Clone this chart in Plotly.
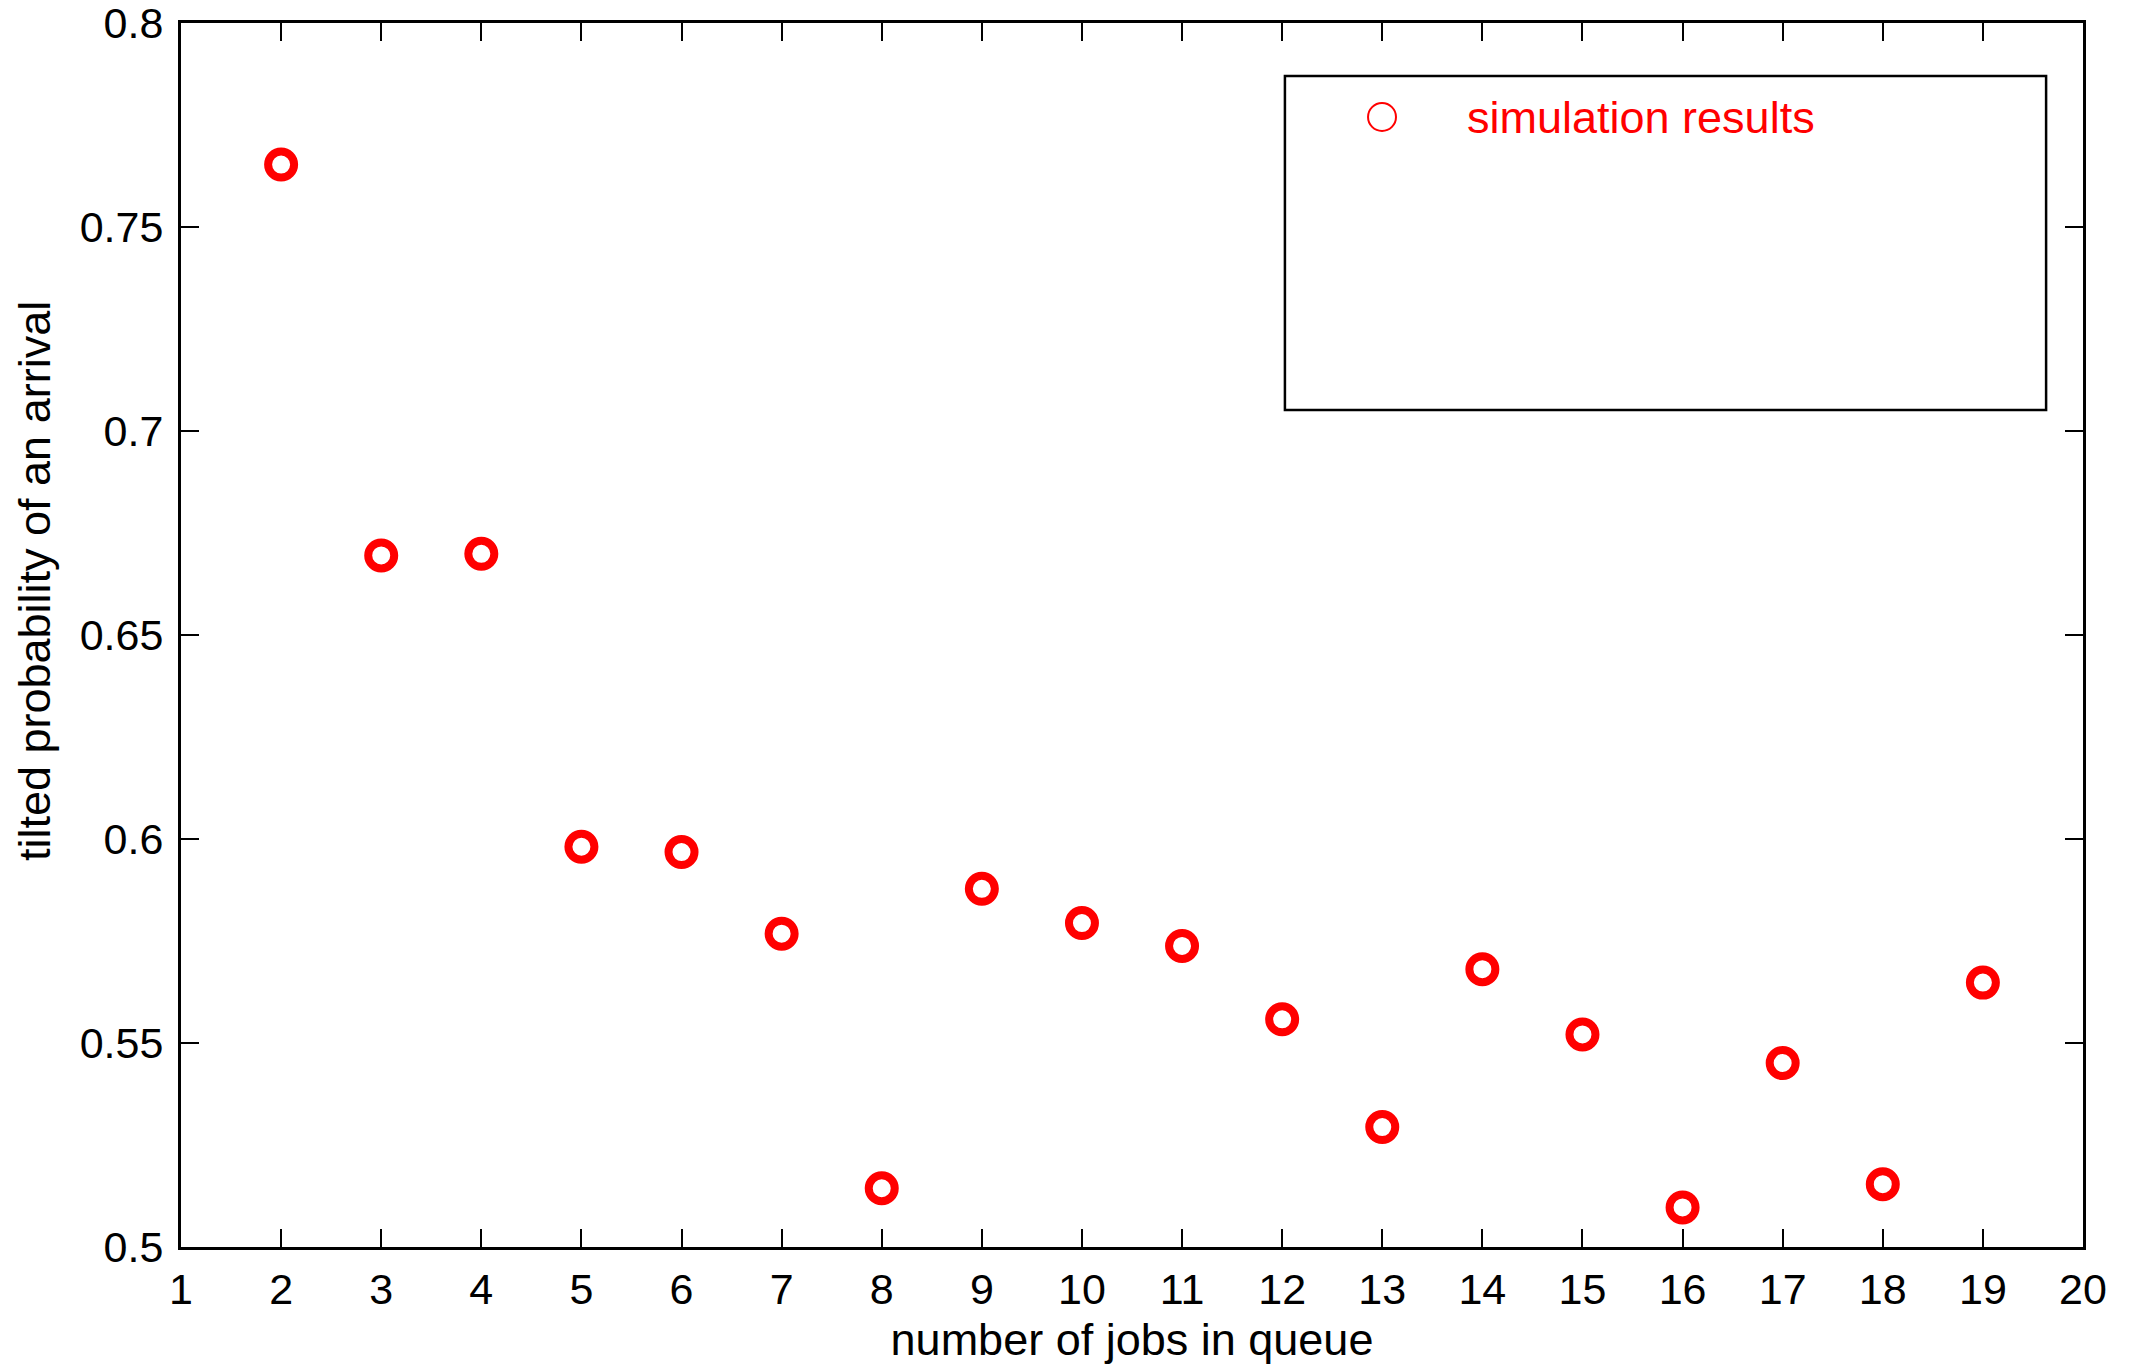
import plotly.graph_objects as go

jobs = [2, 3, 4, 5, 6, 7, 8, 9, 10, 11, 12, 13, 14, 15, 16, 17, 18, 19]
tilted_prob = [0.7653, 0.6695, 0.6699, 0.5981, 0.5968, 0.5768, 0.5144, 0.5878,
               0.5794, 0.5738, 0.5558, 0.5294, 0.5681, 0.5521, 0.5097, 0.5451,
               0.5154, 0.5648]
x_ticks = list(range(1, 21))
y_ticks = [0.5, 0.55, 0.6, 0.65, 0.7, 0.75, 0.8]
y_tick_labels = ["0.5", "0.55", "0.6", "0.65", "0.7", "0.75", "0.8"]
legend_label = "simulation results"
x_title = "number of jobs in queue"
y_title = "tilted probability of an arrival"

FONT = "Liberation Sans, Arial, Helvetica, sans-serif"
RED = "#ff0000"
FS_TICK = 43
FS_TITLE = 45

fig = go.Figure()
fig.add_trace(go.Scatter(
    x=jobs, y=tilted_prob, mode="markers", showlegend=False,
    marker=dict(symbol="circle-open", size=26, color=RED, line=dict(width=8, color=RED)),
))

axis_common = dict(
    showgrid=False, zeroline=False, showline=True, linecolor="black", linewidth=3,
    mirror="ticks", ticks="inside", ticklen=18, tickwidth=2, tickcolor="black",
    tickfont=dict(family=FONT, size=FS_TICK, color="black"), automargin=False,
    ticklabeloverflow="allow",
)

fig.update_xaxes(range=[1, 20], tickvals=x_ticks, ticktext=[str(v) for v in x_ticks],
                 ticklabelstandoff=2,
                 title=dict(text=x_title, font=dict(family=FONT, size=FS_TITLE, color="black"), standoff=12),
                 **axis_common)
fig.update_yaxes(range=[0.5, 0.8], tickvals=y_ticks, ticktext=y_tick_labels,
                 ticklabelstandoff=6, **axis_common)

# y-axis title (placed slightly above centre, as in the reference)
fig.add_annotation(text=y_title, xref="paper", yref="paper", x=-0.0773, y=0.544,
                   xanchor="center", yanchor="middle", textangle=-90, showarrow=False,
                   font=dict(family=FONT, size=FS_TITLE, color="black"))

# legend box
fig.add_shape(type="rect", xref="paper", yref="paper", x0=0.5804, x1=0.9806, y0=0.6838, y1=0.9567,
              line=dict(color="black", width=2.5), fillcolor="rgba(0,0,0,0)")
# legend glyph (thin open circle)
fig.add_shape(type="circle", xref="paper", yref="paper", x0=0.6241, x1=0.6388, y0=0.9118, y1=0.9346,
              line=dict(color=RED, width=2), fillcolor="rgba(0,0,0,0)")
fig.add_annotation(text=legend_label, xref="paper", yref="paper", x=0.6751, y=0.9232,
                   xanchor="left", yanchor="middle", showarrow=False,
                   font=dict(family=FONT, size=FS_TITLE, color=RED))

fig.update_layout(
    width=2134, height=1367,
    margin=dict(l=181, r=51, t=23, b=120, autoexpand=False),
    paper_bgcolor="white", plot_bgcolor="white",
    font=dict(family=FONT, color="black"),
    showlegend=False,
)

fig.write_html("out.html", config={"displayModeBar": False},
               post_script="document.body.style.margin='0';document.body.style.overflow='hidden';")
